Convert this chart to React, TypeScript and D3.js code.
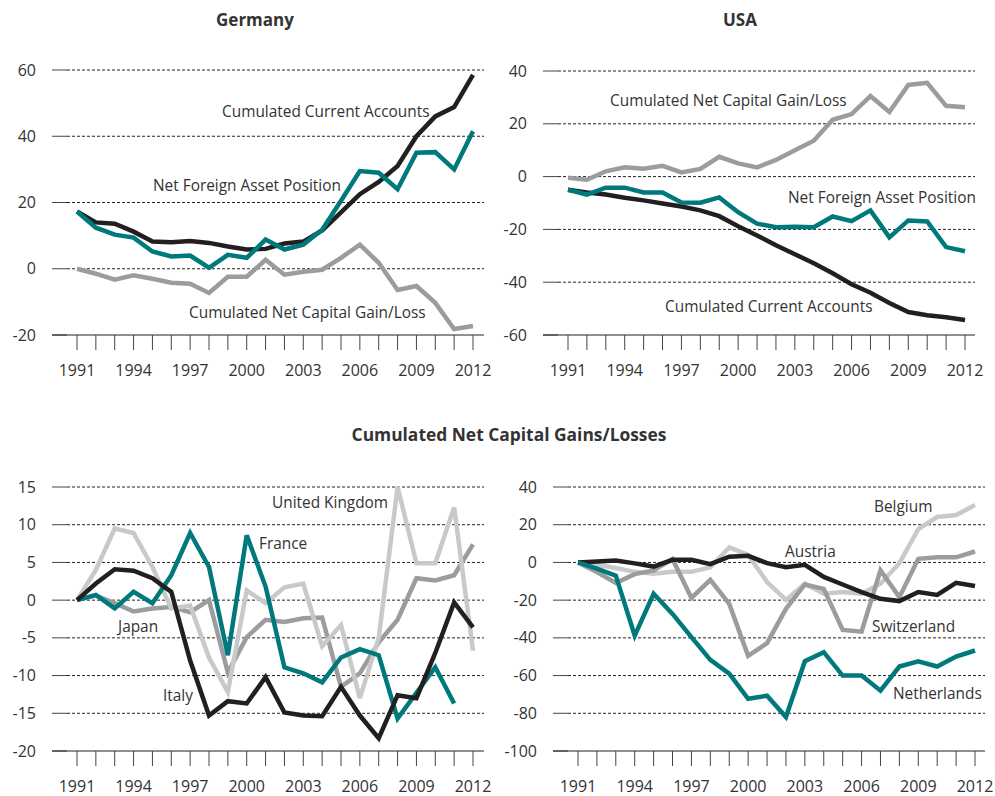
import React from "react";
import * as d3 from "d3";

const years = [1991,1992,1993,1994,1995,1996,1997,1998,1999,2000,2001,2002,2003,2004,2005,2006,2007,2008,2009,2010,2011,2012];
const xTickYears = [1991,1994,1997,2000,2003,2006,2009,2012];

// Germany
const deCurrentAccounts = [17.3,14,13.6,11.2,8.2,8.0,8.4,7.8,6.7,5.8,6.0,7.6,8.2,11.6,17,22.5,26.2,31,40,46,48.8,58.5];
const deNetForeignAssets = [17.3,12.4,10.3,9.4,5.2,3.7,4.0,0.3,4.2,3.3,8.8,5.8,7.3,11.8,20.5,29.5,29,24,35,35.2,30,41.5];
const deCapitalGain = [0,-1.5,-3.3,-2,-3,-4.2,-4.5,-7.3,-2.4,-2.4,2.7,-1.8,-0.9,-0.3,3.3,7.3,1.8,-6.4,-5.2,-10.3,-18.2,-17.3];
const deTicks = [60,40,20,0,-20];

// USA
const usCapitalGain = [-0.4,-1.2,2,3.5,3,4.1,1.6,2.9,7.5,5,3.5,6.3,10,13.6,21.5,23.7,30.5,24.5,34.7,35.5,26.8,26.3];
const usNetForeignAssets = [-5,-6.8,-4.2,-4.2,-6,-6,-9.8,-9.9,-7.9,-13.5,-17.8,-19.2,-19,-19.2,-15.1,-16.9,-12.8,-23,-16.6,-17,-26.7,-28.3];
const usCurrentAccounts = [-5,-6,-6.8,-8,-9,-10.2,-11.3,-12.8,-15,-18.8,-22.3,-26,-29.4,-32.8,-36.6,-40.8,-44,-47.9,-51.3,-52.5,-53.3,-54.3];
const usTicks = [40,20,0,-20,-40,-60];

// Bottom left
const italy = [0,2.2,4.1,3.9,2.9,1.1,-8,-15.3,-13.4,-13.7,-10.2,-14.9,-15.3,-15.4,-11.5,-15.3,-18.3,-12.6,-13,-7,-0.3,-3.6];
const france: (number | null)[] = [0,0.7,-1.1,1.1,-0.4,3.3,8.9,4.4,-7.3,8.6,1.8,-8.9,-9.7,-10.9,-7.6,-6.5,-7.3,-15.7,-12.3,-8.9,-13.7,null];
const unitedKingdom = [0,4,9.5,8.9,4.4,-1.1,-0.7,-7.6,-12.2,1.3,-0.4,1.7,2.2,-6.1,-3.3,-13,-5,15,4.9,4.9,12.3,-6.7];
const japan = [0,0.6,-0.4,-1.5,-1.1,-0.9,-1.6,0,-9.6,-4.9,-2.6,-2.9,-2.4,-2.3,-11.5,-9.7,-5.6,-2.6,2.9,2.6,3.3,7.4];
const blTicks = [15,10,5,0,-5,-10,-15,-20];

// Bottom right
const austria = [0,0.5,1,-0.5,-2.2,1.4,1.4,-0.9,3,3.5,-0.4,-2.5,-1.3,-7.7,-11.7,-15.7,-19.3,-20.5,-15.7,-17.2,-10.8,-12.5];
const belgium = [0,-1.2,-3,-5,-6,-5,-5,-2.6,8,4,-10.4,-19.9,-11.3,-16.6,-15.7,-16.6,-11.3,-0.4,17.7,24.1,25.1,30.4];
const switzerland = [0,-5.1,-10.9,-6.2,-4.2,1.8,-18.8,-9.2,-22,-49.5,-42.8,-24.6,-11.7,-14,-35.8,-36.7,-4.2,-18.4,1.9,2.7,2.7,5.8];
const netherlands = [0,-3.3,-7,-38.8,-16.6,-27.3,-39.6,-51.7,-59,-72.3,-70.7,-82,-52.4,-47.6,-60,-60,-68,-55.2,-52.4,-55.2,-49.9,-46.7];
const brTicks = [40,20,0,-20,-40,-60,-80,-100];

const BLACK = "#231f20";
const TEAL = "#00797d";
const GRAY = "#9b9c9f";
const LIGHT = "#c8c9cb";
const TEXT = "#333333";
const FONT = "'Open Sans', 'Noto Sans', sans-serif";

type Series = { values: (number | null)[]; color: string };
type Label = { text: string; x: number; y: number };
type Panel = {
  tickX0: number; axisX1: number; xRange: [number, number];
  yDomain: [number, number]; yRange: [number, number];
  ticks: number[]; series: Series[]; labels: Label[];
};

const panels: Panel[] = [
  {
    tickX0: 52, axisX1: 484, xRange: [77, 473], yDomain: [-20, 60], yRange: [335, 70], ticks: deTicks,
    series: [
      { values: deCapitalGain, color: GRAY },
      { values: deCurrentAccounts, color: BLACK },
      { values: deNetForeignAssets, color: TEAL },
    ],
    labels: [
      { text: "Cumulated Current Accounts", x: 222, y: 117 },
      { text: "Net Foreign Asset Position", x: 153, y: 191 },
      { text: "Cumulated Net Capital Gain/Loss", x: 189, y: 318 },
    ],
  },
  {
    tickX0: 543, axisX1: 975, xRange: [568, 965], yDomain: [-60, 40], yRange: [335, 71], ticks: usTicks,
    series: [
      { values: usCapitalGain, color: GRAY },
      { values: usCurrentAccounts, color: BLACK },
      { values: usNetForeignAssets, color: TEAL },
    ],
    labels: [
      { text: "Cumulated Net Capital Gain/Loss", x: 610, y: 106 },
      { text: "Net Foreign Asset Position", x: 788, y: 203 },
      { text: "Cumulated Current Accounts", x: 665, y: 312 },
    ],
  },
  {
    tickX0: 52, axisX1: 484, xRange: [77, 473], yDomain: [-20, 15], yRange: [751, 487], ticks: blTicks,
    series: [
      { values: japan, color: GRAY },
      { values: unitedKingdom, color: LIGHT },
      { values: france, color: TEAL },
      { values: italy, color: BLACK },
    ],
    labels: [
      { text: "United Kingdom", x: 272, y: 508 },
      { text: "France", x: 259, y: 549 },
      { text: "Japan", x: 118, y: 632 },
      { text: "Italy", x: 163, y: 701 },
    ],
  },
  {
    tickX0: 553, axisX1: 985, xRange: [578, 975], yDomain: [-100, 40], yRange: [751, 487], ticks: brTicks,
    series: [
      { values: belgium, color: LIGHT },
      { values: switzerland, color: GRAY },
      { values: austria, color: BLACK },
      { values: netherlands, color: TEAL },
    ],
    labels: [
      { text: "Belgium", x: 874, y: 512 },
      { text: "Austria", x: 785, y: 557 },
      { text: "Switzerland", x: 872, y: 632 },
      { text: "Netherlands", x: 893, y: 699 },
    ],
  },
];

function PanelView({ p }: { p: Panel }) {
  const x = d3.scaleLinear().domain([years[0], years[years.length - 1]]).range(p.xRange);
  const y = d3.scaleLinear().domain(p.yDomain).range(p.yRange);
  const gridX0 = p.tickX0 + 15;
  const axisY = y(p.yDomain[0]);
  const line = d3
    .line<number | null>()
    .defined((d) => d !== null)
    .x((_, i) => x(years[i]))
    .y((d) => y(d as number));
  return (
    <g>
      {p.ticks.map((t) => (
        <g key={t}>
          <line x1={p.tickX0} x2={gridX0} y1={y(t)} y2={y(t)} stroke="#444" strokeWidth={1} />
          {t !== p.yDomain[0] && (
            <line x1={gridX0} x2={p.axisX1} y1={y(t)} y2={y(t)} stroke="#222" strokeWidth={1} strokeDasharray="3,2" />
          )}
          <text x={p.tickX0 - 16} y={y(t)} dy="0.35em" textAnchor="end" fontSize={16} fill={TEXT} fontFamily={FONT}>
            {t}
          </text>
        </g>
      ))}
      <line x1={p.tickX0} x2={p.axisX1} y1={axisY} y2={axisY} stroke="#222" strokeWidth={1} />
      {years.map((yr) => (
        <line key={yr} x1={x(yr)} x2={x(yr)} y1={axisY} y2={axisY + 15} stroke="#444" strokeWidth={1} />
      ))}
      {xTickYears.map((yr) => (
        <text key={yr} x={x(yr)} y={axisY + 35} dy="0.35em" textAnchor="middle" fontSize={16} fill={TEXT} fontFamily={FONT}>
          {yr}
        </text>
      ))}
      {p.series.map((s, i) => (
        <path key={i} d={line(s.values) || ""} fill="none" stroke={s.color} strokeWidth={4.5} strokeLinejoin="miter" strokeMiterlimit={3} />
      ))}
      {p.labels.map((l) => (
        <text key={l.text} x={l.x} y={l.y} fontSize={15.4} fill={TEXT} fontFamily={FONT}>
          {l.text}
        </text>
      ))}
    </g>
  );
}

export default function App() {
  return (
    <svg width={995} height={796} style={{ position: "absolute", left: 0, top: 0, background: "#fff" }}>
      <text x={255} y={20} dy="0.35em" textAnchor="middle" fontSize={17} fontWeight="bold" fill={TEXT} fontFamily={FONT}>Germany</text>
      <text x={740} y={20} dy="0.35em" textAnchor="middle" fontSize={17} fontWeight="bold" fill={TEXT} fontFamily={FONT}>USA</text>
      <text x={509} y={435} dy="0.35em" textAnchor="middle" fontSize={17.4} fontWeight="bold" fill={TEXT} fontFamily={FONT}>Cumulated Net Capital Gains/Losses</text>
      {panels.map((p, i) => (
        <PanelView key={i} p={p} />
      ))}
    </svg>
  );
}
